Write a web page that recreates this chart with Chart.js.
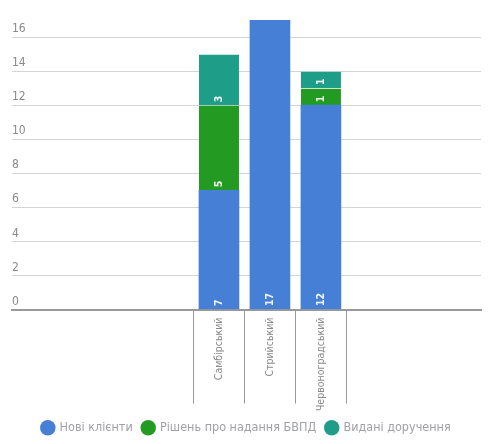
<!DOCTYPE html>
<html>
<head>
<meta charset="utf-8">
<script src="https://cdn.jsdelivr.net/npm/chart.js@4"></script>
<style>
  body { margin: 0; background: #fff; }
  #wrap { width: 501px; height: 444px; }
</style>
</head>
<body>
<div id="wrap"><canvas id="myChart"></canvas></div>
<script>
var categories = ['Самбірський', 'Стрийський', 'Червоноградський'];
var seriesNames = ['Нові клієнти', 'Рішень про надання БВПД', 'Видані доручення'];
var newClients = [7, 17, 12];
var decisions = [5, null, 1];
var orders = [3, null, 1];
var yTicks = [0, 2, 4, 6, 8, 10, 12, 14, 16];

var colors = ['#4680d6', '#239b22', '#1e9e89'];
var font = "'DejaVu Sans Condensed', 'DejaVu Sans', sans-serif";

function points(arr) {
    return arr.map(function (v, i) { return { x: i, y: v }; });
}

// value labels written at the base of each segment, rotated
var segmentLabels = {
    id: 'segmentLabels',
    afterDatasetsDraw: function (chart) {
        var ctx = chart.ctx;
        ctx.save();
        ctx.font = 'bold 10.5px ' + font;
        ctx.fillStyle = 'rgba(255,255,255,0.92)';
        ctx.textAlign = 'left';
        ctx.textBaseline = 'middle';
        chart.data.datasets.forEach(function (ds, di) {
            chart.getDatasetMeta(di).data.forEach(function (bar, i) {
                var v = ds.data[i].y;
                if (!v) return;
                ctx.save();
                ctx.translate(bar.x, bar.base - 3);
                ctx.rotate(-Math.PI / 2);
                ctx.fillText(String(v), 0, 0);
                ctx.restore();
            });
        });
        ctx.restore();
    }
};

var ctx = document.getElementById('myChart').getContext('2d');

var config = {
    type: 'bar',
    data: {
        datasets: [{
            label: seriesNames[0],
            data: points(newClients),
            backgroundColor: colors[0]
        }, {
            label: seriesNames[1],
            data: points(decisions),
            backgroundColor: colors[1],
            borderColor: 'rgba(255,255,255,0.3)',
            borderWidth: { top: 1 }
        }, {
            label: seriesNames[2],
            data: points(orders),
            backgroundColor: colors[2],
            borderColor: 'rgba(255,255,255,0.3)',
            borderWidth: { top: 1 }
        }]
    },
    options: {
        responsive: true,
        maintainAspectRatio: false,
        animation: false,
        barThickness: 40,
        layout: { padding: { left: 12, right: 20, top: 20, bottom: 0 } },
        scales: {
            x: {
                type: 'linear',
                stacked: true,
                offset: false,
                min: -4.06,
                max: 5.14,
                afterBuildTicks: function (scale) {
                    var t = [];
                    for (var i = 0; i < categories.length; i++) {
                        t.push({ value: i - 0.5 });
                        t.push({ value: i });
                    }
                    t.push({ value: categories.length - 0.5 });
                    scale.ticks = t;
                },
                afterFit: function (scale) {
                    scale.height = 102;
                },
                ticks: {
                    autoSkip: false,
                    minRotation: 90,
                    maxRotation: 90,
                    padding: -86,
                    color: '#8a8a8a',
                    font: { family: font, size: 10.5 },
                    callback: function (v) {
                        return Number.isInteger(v) ? categories[v] : '';
                    }
                },
                grid: {
                    offset: false,
                    drawOnChartArea: false,
                    tickLength: 94,
                    color: function (c) {
                        return c.tick && Number.isInteger(c.tick.value) ? 'rgba(0,0,0,0)' : '#999';
                    }
                },
                border: { color: '#999', width: 2 }
            },
            y: {
                stacked: true,
                min: 0,
                max: 17,
                afterBuildTicks: function (scale) {
                    scale.ticks = yTicks.map(function (v) { return { value: v }; });
                },
                ticks: {
                    mirror: true,
                    padding: 0,
                    labelOffset: -8,
                    color: '#8a8a8a',
                    font: { family: font, size: 12 }
                },
                grid: { color: '#d4d4d4', drawTicks: false },
                border: { display: false }
            }
        },
        plugins: {
            legend: {
                position: 'bottom',
                labels: {
                    usePointStyle: true,
                    pointStyle: 'circle',
                    boxWidth: 11,
                    boxHeight: 11,
                    padding: 10,
                    color: '#a0a0a8',
                    font: { family: font, size: 12.5 }
                }
            },
            tooltip: { enabled: false }
        }
    },
    plugins: [segmentLabels]
};

var myChart = new Chart(ctx, config);
</script>
</body>
</html>
